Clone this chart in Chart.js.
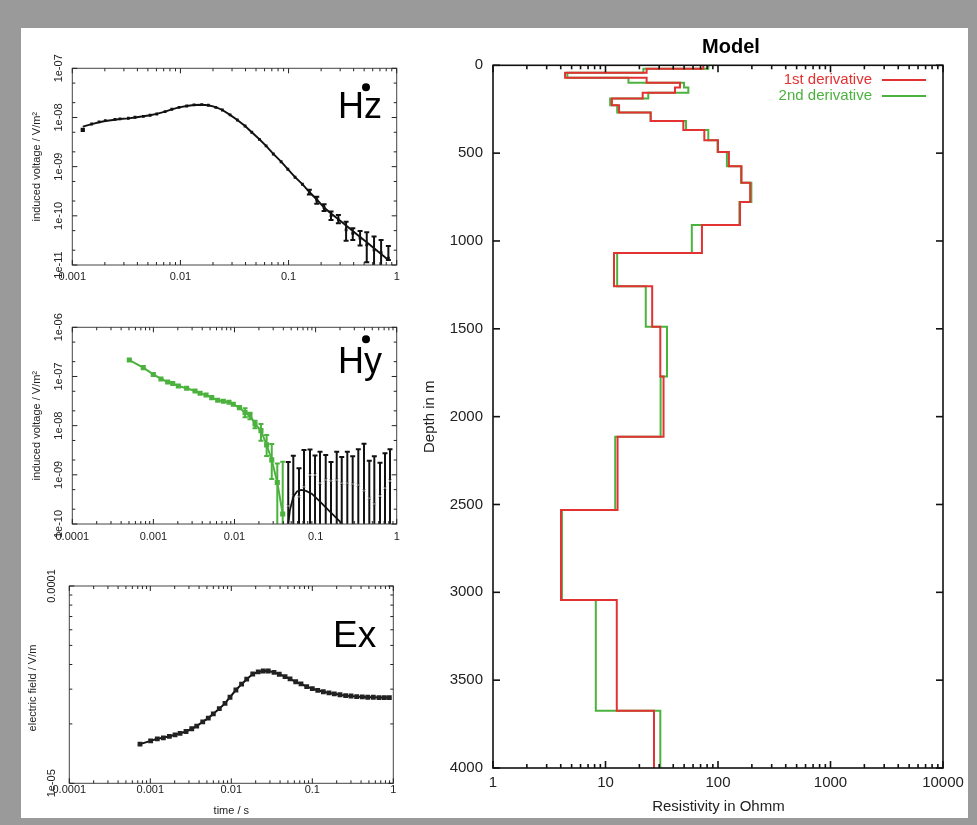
<!DOCTYPE html>
<html><head><meta charset="utf-8">
<script src="https://cdn.jsdelivr.net/npm/chart.js@4.4.0/dist/chart.umd.min.js"></script>
<style>
html,body{margin:0;padding:0;background:#9a9a9a;}
#page{position:relative;width:977px;height:825px;background:#9a9a9a;overflow:hidden;}
#white{position:absolute;left:21px;top:28px;width:947px;height:790px;background:#fff;}
canvas{position:absolute;left:0;top:0;}
</style></head><body>
<div id="page"><div id="white"></div>
<canvas id="cHz" width="977" height="825"></canvas>
<canvas id="cHy" width="977" height="825"></canvas>
<canvas id="cEx" width="977" height="825"></canvas>
<canvas id="cModel" width="977" height="825"></canvas>
</div>
<script>
// ---------------- DATA ----------------
// Hz panel (induced voltage, V/m^2) vs time (s)
const hzTime = [0.00125,0.00151,0.00177,0.00202,0.00248,0.00276,0.00330,0.00380,0.00454,0.00524,0.00604,0.00721,0.00832,0.00971,0.01143,0.01336,0.01574,0.01812,0.02122,0.02443,0.02877,0.03360,0.03961,0.04567,0.05373,0.06194,0.07230,0.0853,0.0984,0.1148,0.1342,0.1557,0.1823,0.2130,0.2470,0.2889,0.3404,0.3926,0.4585,0.5285,0.6174,0.7173,0.8375];
const hzValue = [5.57e-9,7.38e-9,8.11e-9,8.61e-9,9.18e-9,9.33e-9,9.64e-9,1.01e-8,1.057e-8,1.11e-8,1.178e-8,1.31e-8,1.47e-8,1.61e-8,1.71e-8,1.80e-8,1.82e-8,1.77e-8,1.61e-8,1.42e-8,1.125e-8,8.89e-9,6.71e-9,5.0e-9,3.60e-9,2.64e-9,1.81e-9,1.26e-9,8.85e-10,6.09e-10,4.39e-10,3.02e-10,2.10e-10,1.47e-10,1.01e-10,8.26e-11,5.16e-11,4.43e-11,3.51e-11,2.56e-11,2.03e-11,1.79e-11,1.37e-11];
const hzErrHigh = [null,null,null,null,null,null,null,null,null,null,null,null,null,null,null,null,null,null,null,null,null,null,null,null,null,null,null,null,null,null,null,3.4e-10,2.45e-10,1.72e-10,1.22e-10,1.04e-10,7.62e-11,5.6e-11,4.93e-11,4.64e-11,3.78e-11,3.24e-11,2.44e-11];
const hzErrLow  = [null,null,null,null,null,null,null,null,null,null,null,null,null,null,null,null,null,null,null,null,null,null,null,null,null,null,null,null,null,null,null,2.7e-10,1.75e-10,1.26e-10,8.26e-11,7.08e-11,3.13e-11,3.24e-11,2.48e-11,1.14e-11,8e-12,8e-12,1.27e-11];
const hzModel = [6.5e-9,7.3e-9,8.0e-9,8.5e-9,9.0e-9,9.3e-9,9.6e-9,1.0e-8,1.06e-8,1.11e-8,1.18e-8,1.31e-8,1.46e-8,1.60e-8,1.71e-8,1.79e-8,1.82e-8,1.77e-8,1.62e-8,1.42e-8,1.13e-8,8.9e-9,6.7e-9,5.0e-9,3.6e-9,2.64e-9,1.82e-9,1.27e-9,8.9e-10,6.1e-10,4.4e-10,3.05e-10,2.15e-10,1.47e-10,1.12e-10,8.5e-11,6.35e-11,4.93e-11,3.72e-11,2.89e-11,2.18e-11,1.67e-11,1.27e-11];

// Hy panel: early (green) data
const hyTime = [5.05e-4,7.50e-4,9.97e-4,1.24e-3,1.50e-3,1.73e-3,2.03e-3,2.57e-3,3.26e-3,3.76e-3,4.46e-3,5.24e-3,6.21e-3,7.28e-3,8.55e-3,9.66e-3,1.15e-2,1.35e-2,1.55e-2,1.79e-2,2.12e-2,2.49e-2,2.88e-2,3.37e-2,3.93e-2];
const hyValue = [2.16e-7,1.51e-7,1.10e-7,8.9e-8,7.73e-8,7.21e-8,6.41e-8,5.75e-8,5.07e-8,4.56e-8,4.21e-8,3.71e-8,3.28e-8,3.13e-8,2.99e-8,2.72e-8,2.32e-8,1.84e-8,1.65e-8,1.08e-8,7.91e-9,4.06e-9,2.01e-9,7.0e-10,1.6e-10];
const hyErrHigh = [null,null,null,null,null,null,null,null,null,null,null,null,null,null,null,null,null,2.26e-8,1.84e-8,1.26e-8,1.08e-8,6.47e-9,4.25e-9,1.7e-9,1.85e-9];
const hyErrLow  = [null,null,null,null,null,null,null,null,null,null,null,null,null,null,null,null,null,1.48e-8,1.35e-8,8.85e-9,4.95e-9,2.42e-9,8.26e-10,5e-11,5e-11];
// Hy panel: late (black) data
const hyLateTime = [0.0460,0.0531,0.0624,0.0719,0.0853,0.0984,0.1134,0.1333,0.1549,0.1821,0.2100,0.2461,0.2866,0.3362,0.3954,0.4593,0.5297,0.6226,0.7173,0.8266];
const hyLateValue = [2.33e-10,3.72e-10,3.60e-10,5.75e-10,9.95e-10,9.95e-10,6.75e-10,7.87e-10,7.62e-10,7.87e-10,6.75e-10,6.75e-10,6.53e-10,6.23e-10,4.78e-10,3.34e-10,2.56e-10,3.72e-10,5.35e-10,7.52e-10];
const hyLateErrHigh = [1.83e-9,2.45e-9,1.36e-9,3.21e-9,3.28e-9,2.48e-9,2.96e-9,2.54e-9,1.83e-9,2.96e-9,2.31e-9,2.96e-9,2.39e-9,3.33e-9,4.30e-9,1.94e-9,2.39e-9,1.77e-9,2.75e-9,3.31e-9];
const hyLateErrLow = [5e-11,5e-11,5e-11,5e-11,5e-11,5e-11,5e-11,5e-11,5e-11,5e-11,5e-11,5e-11,5e-11,5e-11,5e-11,5e-11,5e-11,5e-11,5e-11,5e-11];
const hyModelTime = [0.0456,0.0483,0.0531,0.0590,0.0661,0.0762,0.0904,0.1134,0.1503,0.2000,0.2370];
const hyModelValue = [9e-11,1.94e-10,3.6e-10,4.6e-10,4.93e-10,4.71e-10,4.09e-10,2.85e-10,1.79e-10,1.12e-10,8.3e-11];

// Ex panel (electric field, V/m)
const exTime = [7.46e-4,1.01e-3,1.22e-3,1.45e-3,1.72e-3,2.02e-3,2.33e-3,2.76e-3,3.25e-3,3.74e-3,4.44e-3,5.20e-3,6.00e-3,7.11e-3,8.36e-3,9.64e-3,1.14e-2,1.34e-2,1.55e-2,1.84e-2,2.15e-2,2.48e-2,2.86e-2,3.37e-2,3.91e-2,4.61e-2,5.31e-2,6.24e-2,7.25e-2,8.53e-2,0.100,0.1167,0.1368,0.1607,0.1870,0.2198,0.2582,0.3006,0.3532,0.4141,0.4831,0.5662,0.6669,0.7745,0.8937];
const exValue = [1.58e-5,1.64e-5,1.68e-5,1.70e-5,1.73e-5,1.76e-5,1.79e-5,1.83e-5,1.89e-5,1.95e-5,2.05e-5,2.14e-5,2.25e-5,2.39e-5,2.54e-5,2.73e-5,2.97e-5,3.18e-5,3.37e-5,3.58e-5,3.67e-5,3.71e-5,3.71e-5,3.65e-5,3.57e-5,3.47e-5,3.38e-5,3.27e-5,3.19e-5,3.09e-5,3.02e-5,2.96e-5,2.91e-5,2.87e-5,2.84e-5,2.81e-5,2.78e-5,2.77e-5,2.75e-5,2.74e-5,2.73e-5,2.73e-5,2.72e-5,2.72e-5,2.72e-5];

// Model panel: layer tops (m) and resistivities (Ohmm)
const layerTop = [0,20,42,71,99,126,156,189,227,269,317,368,427,494,575,668,778,909,1068,1258,1488,1772,2114,2531,3043,3674];
const modelBottom = 4000;
const rho1st = [74,23.2,4.37,23.2,45.9,41.5,21.4,11.4,13.2,25.2,49.2,75.6,100,125,162,193,157,72,11.9,26,30.7,32.8,12.8,4.02,12.6,27];
const rho2nd = [82,21.7,4.58,16.0,49.9,54.5,24.0,11.0,12.7,25.2,52,82,99,120,160,198,155,58.5,12.7,22.8,35.2,30.9,12.2,4.1,8.2,30.7];

// Tick labels
const timeTicks3 = [0.001,0.01,0.1,1];
const timeTickLabels3 = ['0.001','0.01','0.1','1'];
const timeTicks4 = [0.0001,0.001,0.01,0.1,1];
const timeTickLabels4 = ['0.0001','0.001','0.01','0.1','1'];
const hzYTicks = [1e-11,1e-10,1e-9,1e-8,1e-7];
const hzYTickLabels = ['1e-11','1e-10','1e-09','1e-08','1e-07'];
const hyYTicks = [1e-10,1e-9,1e-8,1e-7,1e-6];
const hyYTickLabels = ['1e-10','1e-09','1e-08','1e-07','1e-06'];
const exYTicks = [1e-5,1e-4];
const exYTickLabels = ['1e-05','0.0001'];
const rhoTicks = [1,10,100,1000,10000];
const rhoTickLabels = ['1','10','100','1000','10000'];
const depthTicks = [0,500,1000,1500,2000,2500,3000,3500,4000];
const depthTickLabels = ['0','500','1000','1500','2000','2500','3000','3500','4000'];

// ---------------- DRAWING ----------------
const W = 977, H = 825;
const FONT = '"Liberation Sans", Arial, Helvetica, sans-serif';
const GREEN = 'rgb(76,178,62)';
const RED = 'rgb(226,50,50)';

function pts(xs, ys) { return xs.map((x, i) => ({x: x, y: ys[i]})); }
function logMinors(min, max, mults) {
  const out = [];
  for (let e = Math.round(Math.log10(min)); e < Math.round(Math.log10(max)); e++) {
    mults.forEach(m => out.push(m * Math.pow(10, e)));
  }
  return out;
}

function axesPlugin(spec) {
  return {
    id: 'axes_' + spec.id,
    beforeDatasetsDraw(chart) {
      if (!spec.errors) return;
      const ctx = chart.ctx, a = chart.chartArea, xs = chart.scales.x, ys = chart.scales.y;
      ctx.save();
      ctx.beginPath(); ctx.rect(a.left, a.top, a.right - a.left, a.bottom - a.top); ctx.clip();
      spec.errors.forEach(eb => {
        ctx.strokeStyle = eb.color; ctx.lineWidth = eb.width;
        eb.t.forEach((t, i) => {
          const lo = eb.lo[i], hi = eb.hi[i];
          if (lo == null || hi == null) return;
          const px = xs.getPixelForValue(t), p1 = ys.getPixelForValue(lo), p2 = ys.getPixelForValue(hi);
          ctx.beginPath();
          ctx.moveTo(px, p1); ctx.lineTo(px, p2);
          ctx.moveTo(px - eb.cap, p1); ctx.lineTo(px + eb.cap, p1);
          ctx.moveTo(px - eb.cap, p2); ctx.lineTo(px + eb.cap, p2);
          ctx.stroke();
        });
      });
      ctx.restore();
    },
    afterDraw(chart) {
      const ctx = chart.ctx, a = chart.chartArea, xs = chart.scales.x, ys = chart.scales.y;
      ctx.save();
      ctx.strokeStyle = spec.frameColor; ctx.lineWidth = spec.frameWidth;
      ctx.strokeRect(a.left, a.top, a.right - a.left, a.bottom - a.top);
      ctx.strokeStyle = spec.tickColor; ctx.lineWidth = spec.tickWidth;
      const tick = (x1, y1, x2, y2) => { ctx.beginPath(); ctx.moveTo(x1, y1); ctx.lineTo(x2, y2); ctx.stroke(); };
      spec.xMajor.forEach(v => { const x = xs.getPixelForValue(v); tick(x, a.bottom, x, a.bottom - spec.majorLen); tick(x, a.top, x, a.top + spec.majorLen); });
      (spec.xMinor || []).forEach(v => { const x = xs.getPixelForValue(v); tick(x, a.bottom, x, a.bottom - spec.minorLen); tick(x, a.top, x, a.top + spec.minorLen); });
      spec.yMajor.forEach(v => { const y = ys.getPixelForValue(v); tick(a.left, y, a.left + spec.majorLen, y); tick(a.right, y, a.right - spec.majorLen, y); });
      (spec.yMinor || []).forEach(v => { const y = ys.getPixelForValue(v); tick(a.left, y, a.left + spec.minorLen, y); tick(a.right, y, a.right - spec.minorLen, y); });
      // labels
      ctx.fillStyle = spec.textColor;
      ctx.font = spec.tickFont;
      ctx.textAlign = 'center'; ctx.textBaseline = 'middle';
      spec.xMajor.forEach((v, i) => ctx.fillText(spec.xLabels[i], xs.getPixelForValue(v), a.bottom + spec.xLabelOffset));
      spec.yMajor.forEach((v, i) => {
        const y = ys.getPixelForValue(v);
        if (spec.yRotate) {
          ctx.save(); ctx.translate(spec.yLabelX, y); ctx.rotate(-Math.PI / 2);
          ctx.textAlign = 'center'; ctx.fillText(spec.yLabels[i], 0, 0); ctx.restore();
        } else {
          ctx.textAlign = 'right'; ctx.fillText(spec.yLabels[i], spec.yLabelX, y);
        }
      });
      (spec.texts || []).forEach(t => {
        ctx.save();
        ctx.font = t.font; ctx.fillStyle = t.color || spec.textColor;
        ctx.textAlign = t.align || 'center'; ctx.textBaseline = t.baseline || 'middle';
        ctx.translate(t.x, t.y); if (t.rotate) ctx.rotate(-Math.PI / 2);
        ctx.fillText(t.text, 0, 0);
        ctx.restore();
      });
      (spec.dots || []).forEach(d => { ctx.beginPath(); ctx.fillStyle = '#000'; ctx.arc(d.x, d.y, d.r, 0, Math.PI * 2); ctx.fill(); });
      (spec.legend || []).forEach(l => {
        ctx.font = l.font; ctx.fillStyle = l.color; ctx.textAlign = 'right'; ctx.textBaseline = 'middle';
        ctx.fillText(l.text, l.x, l.y);
        ctx.strokeStyle = l.color; ctx.lineWidth = 2.2;
        ctx.beginPath(); ctx.moveTo(l.x1, l.y); ctx.lineTo(l.x2, l.y); ctx.stroke();
      });
      ctx.restore();
    }
  };
}

function makeChart(id, area, datasets, xScale, yScale, spec) {
  return new Chart(document.getElementById(id), {
    type: 'scatter',
    data: { datasets: datasets },
    options: {
      responsive: false, animation: false, devicePixelRatio: 1, events: [],
      layout: { padding: { left: area[0], top: area[1], right: W - area[2], bottom: H - area[3] } },
      scales: { x: Object.assign({ display: false }, xScale), y: Object.assign({ display: false }, yScale) },
      plugins: { legend: { display: false }, tooltip: { enabled: false } }
    },
    plugins: [axesPlugin(spec)]
  });
}

const smallFont = '11px ' + FONT;
const bigFont = '36px ' + FONT;

// Hz
makeChart('cHz', [72.3, 68.3, 396.7, 265], [
  { data: pts(hzTime, hzModel), showLine: true, borderColor: '#111', borderWidth: 1.9, pointRadius: 0 },
  { data: pts(hzTime, hzValue), showLine: false, pointStyle: 'rect', pointRadius: c => c.dataIndex === 0 ? 3 : 2, backgroundColor: '#111', borderColor: '#111', borderWidth: 0 }
], { type: 'logarithmic', min: 0.001, max: 1 }, { type: 'logarithmic', min: 1e-11, max: 1e-7 }, {
  id: 'hz', frameColor: '#444', frameWidth: 1, tickColor: '#222', tickWidth: 1, majorLen: 5, minorLen: 3,
  xMajor: timeTicks3, xLabels: timeTickLabels3, xMinor: logMinors(0.001, 1, [2,3,4,5,6,7,8,9]),
  yMajor: hzYTicks, yLabels: hzYTickLabels, yMinor: logMinors(1e-11, 1e-7, [2,5]),
  textColor: '#222', tickFont: smallFont, xLabelOffset: 12, yRotate: true, yLabelX: 59,
  errors: [{ t: hzTime, lo: hzErrLow, hi: hzErrHigh, color: '#111', width: 2, cap: 2.5 }],
  texts: [
    { text: 'induced voltage / V/m\u00b2', x: 37, y: 166.7, rotate: true, font: smallFont },
    { text: 'Hz', x: 338, y: 117.5, font: bigFont, color: '#000', align: 'left', baseline: 'alphabetic' }
  ],
  dots: [{ x: 366, y: 87.3, r: 4 }]
});

// Hy
makeChart('cHy', [72.3, 327.3, 396.7, 524], [
  { data: pts(hyModelTime, hyModelValue), showLine: true, borderColor: '#111', borderWidth: 1.8, pointRadius: 0 },
  { data: pts(hyLateTime, hyLateValue), showLine: false, pointStyle: 'crossRot', pointRadius: 2, borderColor: '#777', borderWidth: 1 },
  { data: pts(hyTime, hyValue), showLine: true, borderColor: GREEN, borderWidth: 2, pointStyle: 'rect', pointRadius: 2.2, backgroundColor: GREEN, pointBorderColor: GREEN }
], { type: 'logarithmic', min: 0.0001, max: 1 }, { type: 'logarithmic', min: 1e-10, max: 1e-6 }, {
  id: 'hy', frameColor: '#444', frameWidth: 1, tickColor: '#222', tickWidth: 1, majorLen: 5, minorLen: 3,
  xMajor: timeTicks4, xLabels: timeTickLabels4, xMinor: logMinors(0.0001, 1, [2,3,4,5,6,7,8,9]),
  yMajor: hyYTicks, yLabels: hyYTickLabels, yMinor: logMinors(1e-10, 1e-6, [2,5]),
  textColor: '#222', tickFont: smallFont, xLabelOffset: 12.5, yRotate: true, yLabelX: 59,
  errors: [
    { t: hyLateTime, lo: hyLateErrLow, hi: hyLateErrHigh, color: '#111', width: 2, cap: 2.5 },
    { t: hyTime, lo: hyErrLow, hi: hyErrHigh, color: GREEN, width: 2, cap: 2.5 }
  ],
  texts: [
    { text: 'induced voltage / V/m\u00b2', x: 37, y: 425.7, rotate: true, font: smallFont },
    { text: 'Hy', x: 338, y: 372.7, font: bigFont, color: '#000', align: 'left', baseline: 'alphabetic' }
  ],
  dots: [{ x: 366, y: 339.3, r: 4 }]
});

// Ex
makeChart('cEx', [69.3, 586, 393.3, 783.3], [
  { data: pts(exTime, exValue), showLine: true, borderColor: '#111', borderWidth: 2, pointStyle: 'rect', pointRadius: 2, backgroundColor: '#222', pointBorderColor: '#222' }
], { type: 'logarithmic', min: 0.0001, max: 1 }, { type: 'logarithmic', min: 1e-5, max: 1e-4 }, {
  id: 'ex', frameColor: '#444', frameWidth: 1, tickColor: '#222', tickWidth: 1, majorLen: 5, minorLen: 3,
  xMajor: timeTicks4, xLabels: timeTickLabels4, xMinor: logMinors(0.0001, 1, [2,3,4,5,6,7,8,9]),
  yMajor: exYTicks, yLabels: exYTickLabels, yMinor: logMinors(1e-5, 1e-4, [2,3,4,5,6,7,8,9]),
  textColor: '#222', tickFont: smallFont, xLabelOffset: 7, yRotate: true, yLabelX: 52,
  texts: [
    { text: 'electric field / V/m', x: 32.5, y: 688, rotate: true, font: smallFont },
    { text: 'time / s', x: 231.3, y: 811, font: smallFont },
    { text: 'Ex', x: 333, y: 647, font: '37px ' + FONT, color: '#000', align: 'left', baseline: 'alphabetic' }
  ]
});

// Model
function stepPoints(tops, rho, bottom) {
  const out = [];
  rho.forEach((r, i) => {
    const t1 = i + 1 < tops.length ? tops[i + 1] : bottom;
    out.push({ x: r, y: tops[i] }, { x: r, y: t1 });
  });
  return out;
}
const modelFont = '15px ' + FONT;
makeChart('cModel', [493, 65.3, 943, 768], [
  { data: stepPoints(layerTop, rho1st, modelBottom), showLine: true, borderColor: RED, borderWidth: 2, pointRadius: 0 },
  { data: stepPoints(layerTop, rho2nd, modelBottom), showLine: true, borderColor: GREEN, borderWidth: 2, pointRadius: 0 }
], { type: 'logarithmic', min: 1, max: 10000 }, { type: 'linear', min: 0, max: 4000, reverse: true }, {
  id: 'model', frameColor: '#111', frameWidth: 1.6, tickColor: '#111', tickWidth: 1.6, majorLen: 7, minorLen: 4,
  xMajor: rhoTicks, xLabels: rhoTickLabels, xMinor: logMinors(1, 10000, [2,3,4,5,6,7,8,9]),
  yMajor: depthTicks, yLabels: depthTickLabels,
  textColor: '#222', tickFont: modelFont, xLabelOffset: 15, yRotate: false, yLabelX: 483,
  texts: [
    { text: 'Model', x: 731, y: 47, font: 'bold 20px ' + FONT, color: '#000' },
    { text: 'Depth in m', x: 430, y: 416.7, rotate: true, font: modelFont },
    { text: 'Resistivity in Ohmm', x: 718.4, y: 806.5, font: modelFont }
  ],
  legend: [
    { text: '1st derivative', x: 872, y: 80, x1: 882, x2: 926, color: RED, font: modelFont },
    { text: '2nd derivative', x: 872, y: 96, x1: 882, x2: 926, color: GREEN, font: modelFont }
  ]
});
</script>
</body></html>
